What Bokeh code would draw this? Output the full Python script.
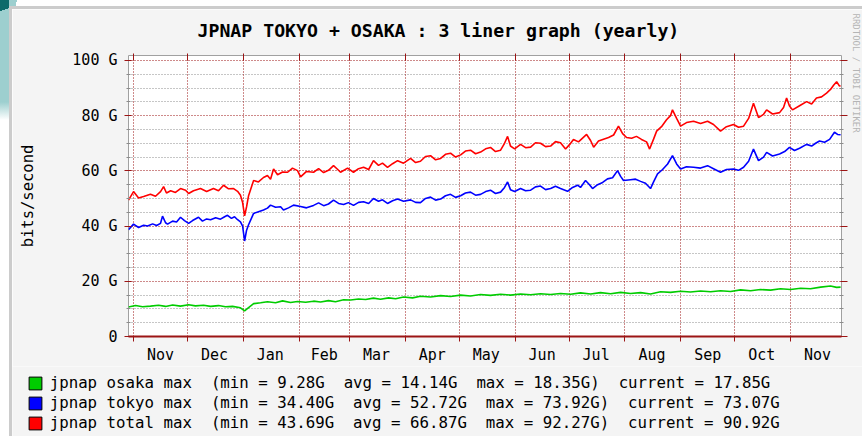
from bokeh.plotting import figure
from bokeh.models import (FixedTicker, LinearAxis, Grid, Legend, LegendItem,
                          Range1d, Title, Spacer, Row, Column)
from bokeh.embed import file_html
from bokeh.resources import INLINE

# ---------------- data ----------------
title_text = "JPNAP TOKYO + OSAKA : 3 liner graph (yearly)"
y_label_text = "bits/second"
watermark_text = "RRDTOOL / TOBI OETIKER"

# days counted from 1 Nov (first month shown)
month_names = ["Nov", "Dec", "Jan", "Feb", "Mar", "Apr", "May", "Jun",
               "Jul", "Aug", "Sep", "Oct", "Nov"]
month_start_day = [0, 30, 61, 92, 120, 151, 181, 212, 242, 273, 304, 334, 365]
month_mid_day = [15, 45, 76, 106, 135, 166, 196, 227, 257, 288, 319, 349, 380]
x_first_day = -2.8
x_last_day = 393.3

y_ticks = [0, 20, 40, 60, 80, 100]
y_tick_labels = ["0", "20 G", "40 G", "60 G", "80 G", "100 G"]
y_minor_ticks = [5, 10, 15, 25, 30, 35, 45, 50, 55, 65, 70, 75, 85, 90, 95]
y_top = 101.8

total_day = [-2.8, 0, 2.8, 5.6, 9.4, 12.2, 15, 16.7, 18.3, 20.6, 23.3, 26.1, 28.9, 30.6,
             33.3, 37.2, 40.6, 44.4, 47.2, 50, 52.8, 55.6, 57.8, 59.4, 60.6, 61.7, 62.8,
             63.9, 66.7, 69.4, 72.2, 74.4, 76.1, 77.8, 80, 82.8, 85.6, 88.3, 91.1, 92.8,
             96.1, 100, 102.8, 105.6, 108.3, 111.1, 113.3, 115, 118.9, 122.2, 125, 127.8,
             130.6, 133.3, 136.1, 138.3, 141.1, 143.9, 146.7, 150, 153.9, 156.7, 159.4,
             162.2, 165, 167.8, 170.6, 173.3, 176.1, 178.9, 181.7, 184.4, 187.2, 190,
             192.8, 195.6, 198.3, 201.1, 203.9, 206.1, 207.8, 209.4, 211.7, 215, 217.8,
             220.6, 223.3, 226.1, 228.9, 231.7, 234.4, 237.2, 240, 242.2, 244.4, 247.2,
             251.7, 253.9, 255.6, 258.3, 261.1, 263.9, 266.7, 269.4, 271.7, 273.9, 276.7,
             279.4, 282.2, 285, 286.7, 288.9, 290.6, 293.3, 296.1, 298.3, 299.4, 301.7,
             303.9, 307.2, 311.1, 315, 318.9, 322.2, 326.1, 329.4, 333.3, 336.1, 338.9,
             341.7, 344.4, 347.2, 350, 351.7, 355, 358.9, 361.1, 362.8, 364.4, 366.1, 370,
             373.9, 376.7, 379.4, 382.2, 385, 387.2, 388.9, 390.6, 392.2, 392.8]
total_gbps = [49.4, 52.5, 50.2, 50.7, 51.5, 50.8, 52.5, 54.3, 52.0, 52.8, 52.2, 53.6, 53.0, 51.8,
              52.8, 53.6, 52.5, 53.6, 52.8, 54.8, 53.5, 53.6, 52.6, 51.2, 48.5, 43.7, 47.0,
              51.0, 56.5, 56.0, 57.6, 58.3, 57.0, 60.7, 58.6, 59.6, 59.5, 61.0, 60.1, 57.8,
              59.8, 59.5, 60.8, 59.4, 60.2, 61.9, 60.6, 59.5, 61.0, 59.5, 60.8, 61.3,
              60.5, 63.7, 62.0, 62.8, 61.3, 62.6, 63.7, 62.8, 64.5, 63.0, 63.5,
              65.2, 65.5, 64.0, 64.5, 66.0, 66.4, 65.0, 65.8, 67.2, 67.5, 66.2,
              66.8, 68.0, 68.5, 67.0, 67.5, 70.0, 72.5, 69.0, 68.0, 69.6, 68.4,
              68.6, 70.2, 70.0, 68.8, 69.0, 70.6, 70.2, 67.9, 69.5, 71.4, 70.5,
              73.2, 71.0, 68.6, 70.8, 71.5, 72.1, 73.0, 76.2, 73.5, 72.1, 71.8,
              72.5, 71.4, 70.5, 67.9, 71.5, 74.4, 76.0, 78.5, 80.0, 82.1, 79.0,
              76.2, 77.5, 78.0, 77.2, 78.0, 76.8, 74.4, 76.0, 76.8, 75.8, 76.2,
              79.0, 84.5, 79.3, 80.5, 82.1, 80.6, 81.1, 83.0, 86.4, 83.5, 82.1, 83.6,
              85.1, 84.2, 86.4, 86.8, 88.2, 89.5, 91.0, 92.3, 90.7, 90.9]

tokyo_day = [-2.8, 0, 2.8, 5.6, 7.8, 10.6, 12.8, 15, 16.1, 17.8, 18.9, 21.7, 23.9, 26.1,
             28.3, 30.6, 32.8, 36.1, 38.3, 40.6, 42.8, 45.6, 48.3, 50.6, 52.2, 54.4, 56.1,
             57.8, 59.4, 60.6, 61.7, 62.8, 63.9, 65.6, 66.7, 69.4, 72.2, 74.4, 76.1, 78.9,
             81.7, 83.3, 86.1, 88.9, 92.8, 96.1, 100, 102.8, 105.6, 108.3, 111.1, 113.9,
             116.7, 119.4, 122.2, 125, 127.8, 130.6, 133.3, 136.1, 138.3, 141.1, 143.9,
             146.7, 150, 153.9, 156.7, 159.4, 162.2, 165, 167.8, 170.6, 173.3, 176.1,
             178.9, 181.7, 184.4, 187.2, 190, 192.8, 195.6, 198.3, 201.1, 203.9, 206.1,
             207.8, 209.4, 211.7, 215, 217.8, 220.6, 223.3, 226.1, 228.9, 231.7, 234.4,
             237.2, 241.1, 243.9, 246.7, 248.3, 251.1, 253.3, 255, 257.8, 260.6, 263.3,
             266.1, 268.9, 270.6, 272.2, 276.1, 278.9, 281.7, 284.4, 287.2, 288.9, 291.1,
             293.9, 296.7, 299.4, 301.7, 303.9, 307.2, 311.1, 315, 318.9, 322.2, 326.1,
             329.4, 333.3, 336.1, 338.9, 341.7, 344.4, 347.2, 350, 351.7, 355, 358.9,
             361.7, 364.4, 367.2, 370, 373.9, 376.7, 378.9, 381.1, 383.9, 386.7, 389.4,
             391.1, 392.8]
tokyo_gbps = [38.7, 40.7, 39.5, 40.3, 40.0, 40.8, 40.2, 41.0, 43.6, 41.2, 40.7, 41.8, 41.5, 43.2,
              42.0, 41.0, 42.0, 43.2, 41.8, 42.6, 42.3, 43.0, 42.5, 43.4, 43.9, 42.8, 43.4,
              42.3, 41.5, 40.0, 34.6, 38.5, 40.5, 43.0, 44.6, 45.2, 45.8, 46.5, 47.6, 46.8,
              47.0, 45.8, 46.6, 47.6, 47.1, 46.6, 47.5, 48.4, 47.4, 48.0, 49.4, 48.2,
              47.8, 48.5, 47.5, 48.6, 48.8, 48.2, 50.0, 49.0, 49.5, 48.2, 49.2,
              49.8, 49.0, 49.5, 48.6, 48.5, 50.0, 50.5, 49.4, 49.8, 51.0, 51.5,
              50.4, 51.0, 52.0, 52.3, 51.2, 51.5, 52.5, 53.0, 51.8, 52.3, 54.0,
              56.0, 53.2, 52.5, 53.6, 52.8, 53.0, 54.2, 54.5, 53.2, 53.6, 54.4,
              53.6, 52.6, 54.0, 54.8, 54.0, 56.5, 55.0, 53.6, 55.0, 55.8, 57.1,
              57.5, 60.1, 58.0, 56.5, 56.8, 57.0, 56.2, 55.5, 53.6, 56.0, 58.9,
              60.5, 62.5, 65.5, 62.5, 60.7, 61.5, 61.3, 61.0, 61.9, 60.8, 59.5,
              60.5, 60.7, 60.2, 61.3, 63.5, 67.9, 63.7, 65.0, 66.7, 65.4, 66.1,
              67.0, 68.5, 67.4, 68.2, 69.6, 69.0, 70.0, 70.8, 70.4, 71.4, 74.0,
              73.2, 73.1]

osaka_day = [-2.8, 1.1, 5, 9.4, 13.9, 17.8, 21.7, 26.1, 30.6, 34.4, 38.9, 42.8, 47.2, 51.1,
             55, 59.4, 61.7, 63.9, 66.7, 70.6, 74.4, 78.9, 82.8, 87.2, 91.1, 95.6, 100,
             103.9, 108.3, 112.2, 116.7, 120.6, 125, 128.9, 133.3, 137.2, 141.7, 145.6, 150,
             155, 159.4, 165, 170.6, 176.1, 181.7, 187.2, 192.8, 198.3, 203.9, 209.4, 215,
             220.6, 226.1, 231.7, 237.2, 242.8, 248.3, 253.9, 259.4, 265, 270.6, 276.1,
             281.7, 287.2, 292.8, 298.3, 303.9, 309.4, 315, 320.6, 326.1, 331.7, 337.2,
             342.8, 348.3, 353.9, 359.4, 365, 370.6, 376.1, 381.7, 387.2, 390.6, 392.8]
osaka_gbps = [10.7, 11.2, 10.8, 11.0, 11.3, 10.9, 11.4, 11.0, 11.5, 11.1, 11.3, 10.9, 11.2, 10.8,
              10.9, 10.4, 9.3, 10.5, 11.9, 12.2, 12.6, 12.2, 12.9, 12.3, 12.7, 12.4, 12.8,
              12.5, 13.0, 12.6, 13.3, 13.2, 13.6, 13.4, 13.9, 13.5, 14.0, 13.7, 14.3,
              14.0, 14.6, 14.3, 14.8, 14.5, 15.0, 14.7, 15.2, 14.9, 15.3, 15.0, 15.4,
              15.1, 15.5, 15.2, 15.6, 15.3, 15.8, 15.4, 15.9, 15.5, 16.0, 15.6,
              15.9, 15.4, 16.2, 16.0, 16.4, 16.1, 16.5, 16.2, 16.6, 16.3, 16.9,
              16.6, 17.0, 16.8, 17.3, 17.0, 17.5, 17.3, 17.9, 18.3, 17.8, 17.9]

series_colors = ["#00cc00", "#0000ff", "#ff0000"]
legend_labels = [
    "jpnap osaka max  (min = 9.28G  avg = 14.14G  max = 18.35G)  current = 17.85G",
    "jpnap tokyo max  (min = 34.40G  avg = 52.72G  max = 73.92G)  current = 73.07G",
    "jpnap total max  (min = 43.69G  avg = 66.87G  max = 92.27G)  current = 90.92G",
]

# ---------------- styles ----------------
MONO = "DejaVu Sans Mono"
GRID_RED = "#9c1414"
GRID_GRAY = "#8c8c8c"
PANEL_BG = "#f4f4f4"
EDGE_GRAY = "#cccccc"
TEAL_LIGHT = "#9dcfcf"
TEAL_DARK = "#0d6a6a"

p = figure(width=850, height=357,
           x_range=Range1d(x_first_day, x_last_day), y_range=Range1d(0, y_top),
           x_axis_type=None, y_axis_type=None,
           output_backend="svg", toolbar_location=None,
           min_border_left=116, min_border_right=21, min_border_top=46, min_border_bottom=26,
           background_fill_color="white", border_fill_color=PANEL_BG,
           outline_line_color="#a0a0a0", outline_line_width=1)
p.frame_align = False

y_ticker = FixedTicker(ticks=y_ticks, minor_ticks=y_minor_ticks)
yax = LinearAxis(ticker=y_ticker,
                 major_label_overrides=dict(zip(y_ticks, y_tick_labels)),
                 axis_line_color=None,
                 major_tick_line_color=GRID_RED, major_tick_out=4, major_tick_in=3,
                 minor_tick_line_color=GRID_GRAY, minor_tick_out=2, minor_tick_in=2,
                 major_label_standoff=7,
                 major_label_text_font=MONO, major_label_text_font_size="15px",
                 major_label_text_color="#000000",
                 axis_label=y_label_text, axis_label_standoff=32,
                 axis_label_text_font=MONO, axis_label_text_font_size="15.5px",
                 axis_label_text_font_style="normal", axis_label_text_color="#000000")
p.add_layout(yax, "left")

# right edge ticks (no labels): gray minor ticks, red ticks at the major values
p.add_layout(LinearAxis(ticker=FixedTicker(ticks=[], minor_ticks=y_minor_ticks),
                        axis_line_color=None, major_tick_out=0, major_tick_in=0,
                        major_label_standoff=0,
                        minor_tick_line_color=GRID_GRAY, minor_tick_out=2, minor_tick_in=2),
             "right")
p.add_layout(LinearAxis(ticker=FixedTicker(ticks=[], minor_ticks=y_ticks),
                        axis_line_color=None, major_tick_out=0, major_tick_in=0,
                        major_label_standoff=0,
                        minor_tick_line_color=GRID_RED, minor_tick_out=4, minor_tick_in=3),
             "right")

xax = LinearAxis(ticker=FixedTicker(ticks=month_mid_day, minor_ticks=month_start_day),
                 major_label_overrides=dict(zip(month_mid_day, month_names)),
                 axis_line_color=GRID_RED, axis_line_width=2,
                 major_tick_line_color=None, major_tick_out=0, major_tick_in=0,
                 minor_tick_line_color=GRID_RED, minor_tick_out=5, minor_tick_in=0,
                 major_label_standoff=4,
                 major_label_text_font=MONO, major_label_text_font_size="15px",
                 major_label_text_color="#000000")
p.add_layout(xax, "below")

p.add_layout(LinearAxis(ticker=FixedTicker(ticks=[], minor_ticks=month_start_day),
                        axis_line_color=None, major_tick_out=0, major_tick_in=0,
                        major_label_standoff=0,
                        minor_tick_line_color=GRID_RED, minor_tick_out=2, minor_tick_in=5),
             "above")

p.add_layout(Grid(dimension=1, ticker=y_ticker,
                  grid_line_color=GRID_RED, grid_line_dash="1 2", grid_line_width=1,
                  minor_grid_line_color=GRID_GRAY, minor_grid_line_dash="1 2",
                  minor_grid_line_width=1))
p.add_layout(Grid(dimension=0, ticker=FixedTicker(ticks=month_start_day),
                  grid_line_color=GRID_RED, grid_line_dash="1 2", grid_line_width=1))

p.add_layout(Title(text=title_text, align="left", offset=69, standoff=21,
                   vertical_align="top",
                   text_font=MONO, text_font_style="bold", text_font_size="18.2px",
                   text_color="#000000"), "above")
p.add_layout(Title(text=watermark_text, align="left", offset=-42, standoff=3,
                   vertical_align="top",
                   text_font=MONO, text_font_style="normal", text_font_size="9px",
                   text_color="#b4b4b4"), "right")

series = [(osaka_day, osaka_gbps), (tokyo_day, tokyo_gbps), (total_day, total_gbps)]
for (d, v), c in zip(series, series_colors):
    p.line(d, v, line_color=c, line_width=1.6)

# ---------------- legend panel ----------------
leg = figure(width=850, height=70, x_range=Range1d(x_first_day, x_last_day),
             y_range=Range1d(0, y_top), x_axis_type=None, y_axis_type=None,
             output_backend="svg", toolbar_location=None,
             min_border=0, min_border_left=0, min_border_right=0,
             min_border_top=0, min_border_bottom=0,
             background_fill_color=PANEL_BG, border_fill_color=PANEL_BG,
             outline_line_color=None)
leg.frame_align = False
leg.xgrid.visible = False
leg.ygrid.visible = False
items = []
for (d, v), c, lab in zip(series, series_colors, legend_labels):
    swatch = leg.vbar(x=d, top=v, width=1, bottom=0, fill_color=c,
                      line_color="black", line_width=1, visible=False)
    items.append(LegendItem(label=lab, renderers=[swatch]))
legend = Legend(items=items, location=(14.7, 3.5), orientation="vertical",
                glyph_width=16, glyph_height=16, label_height=20, spacing=0,
                padding=0, margin=0, label_standoff=7,
                border_line_color=None, background_fill_alpha=0,
                label_text_font=MONO, label_text_font_size="15.75px",
                label_text_color="#000000")
leg.add_layout(legend)

# ---------------- page frame (slide corner + panel border) ----------------
left_strip_bg = (f"linear-gradient(162deg, {TEAL_DARK} 0 38%, transparent 38%) 0 0 / 9px 26px no-repeat, "
                 f"linear-gradient(to bottom, {TEAL_LIGHT} 0 85%, #ffffff 100%) 0 0 / 9px 120px no-repeat, "
                 "#ffffff")
top_strip_bg = (f"linear-gradient(100deg, {TEAL_LIGHT} 0 60%, transparent 60%) 0 0 / 12px 6px no-repeat, "
                "#ffffff")

layout = Row(children=[
    Spacer(width=9, height=436, styles={"background": left_strip_bg}),
    Column(children=[
        Spacer(width=853, height=6, styles={"background": top_strip_bg}),
        Row(children=[
            Spacer(width=3, height=430, styles={"background-color": EDGE_GRAY}),
            Column(children=[
                Spacer(width=850, height=3, styles={"background-color": EDGE_GRAY}),
                p,
                leg,
            ], spacing=0),
        ], spacing=0),
    ], spacing=0),
], spacing=0)

open("out.html", "w").write(file_html(layout, INLINE))
